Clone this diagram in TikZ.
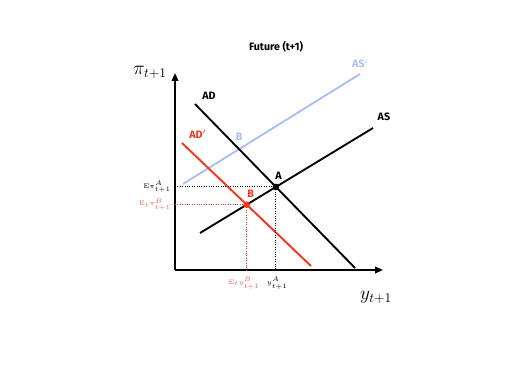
\documentclass[tikz,border=0pt]{standalone}
\definecolor{shockRed}{RGB}{250,50,25}
\definecolor{shockSalmon}{RGB}{240,105,90}
\definecolor{supplyBlue}{RGB}{170,190,245}
\usepackage{fontspec}
\setsansfont{Fira Sans}
\usepackage{tikz}
\usetikzlibrary{arrows.meta,positioning,intersections}

\begin{document}
\begin{tikzpicture}[x=0.75pt, y=-0.75pt, every node/.style={font=\sffamily\footnotesize\bfseries}]
  \useasboundingbox (0,0) rectangle (530,373);
  \tikzset{
    curve/.style={line width=1.4pt},
    guide/.style={densely dotted, line width=0.8pt},
    dot/.style={circle, fill, inner sep=0pt, minimum size=5pt},
    tick/.style={font=\tiny, inner sep=1pt}
  }
  % Title
  \node (title) at (276,47) {Future (t+1)};
  % Axes
  \coordinate (O) at (175,270);
  \coordinate (yTop) at (175,73);
  \coordinate (xEnd) at (383,270);
  \draw[line width=1.3pt, -{Triangle[length=6pt,width=5pt]}] (O) -- (yTop);
  \draw[line width=1.3pt, -{Triangle[length=6pt,width=5pt]}] (O) -- (xEnd);
  \node[font=\Large] (piLabel) at (150,72) {$\pi_{t+1}$};
  \node[font=\Large] (yLabel) at (376,297) {$y_{t+1}$};
  % Curves
  \coordinate (ADa) at (195,104);  \coordinate (ADb) at (355,268);
  \coordinate (ADpa) at (182,143); \coordinate (ADpb) at (311,266);
  \coordinate (ASa) at (200,233);  \coordinate (ASb) at (373,128);
  \coordinate (ASpa) at (183,184); \coordinate (ASpb) at (360,74);
  \draw[curve, supplyBlue, name path=ASp] (ASpa) -- (ASpb);
  \draw[curve, name path=AD] (ADa) -- (ADb);
  \draw[curve, shockRed, name path=ADp] (ADpa) -- (ADpb);
  \draw[curve, name path=AS] (ASa) -- (ASb);
  \path[name intersections={of=AD and AS, by=A}];
  \path[name intersections={of=ADp and AS, by=B}];
  \path[name intersections={of=AD and ASp, by=Bp}];
  % Curve labels
  \node[above right=0pt and 2pt of ADa] (adLabel) {AD};
  \node[above right=0pt and 2pt of ADpa, shockRed] (adpLabel) {AD$'$};
  \node[above right=2pt and 0pt of ASb] (asLabel) {AS};
  \node[above=1pt of ASpb, supplyBlue] (aspLabel) {AS$'$};
  % Guides to the axes
  \draw[guide] (O |- A) -- (A) -- (A |- O);
  \draw[guide, shockRed] (O |- B) -- (B) -- (B |- O);
  % Points
  \node[dot] (dotA) at (A) {};
  \node[dot, shockRed] (dotB) at (B) {};
  \node[above=2pt of A, xshift=2pt] (labA) {A};
  \node[above=2pt of B, xshift=3pt, shockRed] (labB) {B};
  \node[above=3pt of Bp, supplyBlue] (labBp) {B};
  % Axis values
  \node[tick, left=2pt of {O |- A}] (piA) {$\mathrm{E}\pi^{A}_{t+1}$};
  \node[tick, left=2pt of {O |- B}, shockSalmon] (piB) {$\mathrm{E}_t\pi^{B}_{t+1}$};
  \node[tick, below=4pt of {B |- O}, xshift=-2pt, shockSalmon] (yB) {$\mathrm{E}_t y^{B}_{t+1}$};
  \node[tick, below=4pt of {A |- O}, xshift=1pt] (yA) {$y^{A}_{t+1}$};
\end{tikzpicture}
\end{document}
